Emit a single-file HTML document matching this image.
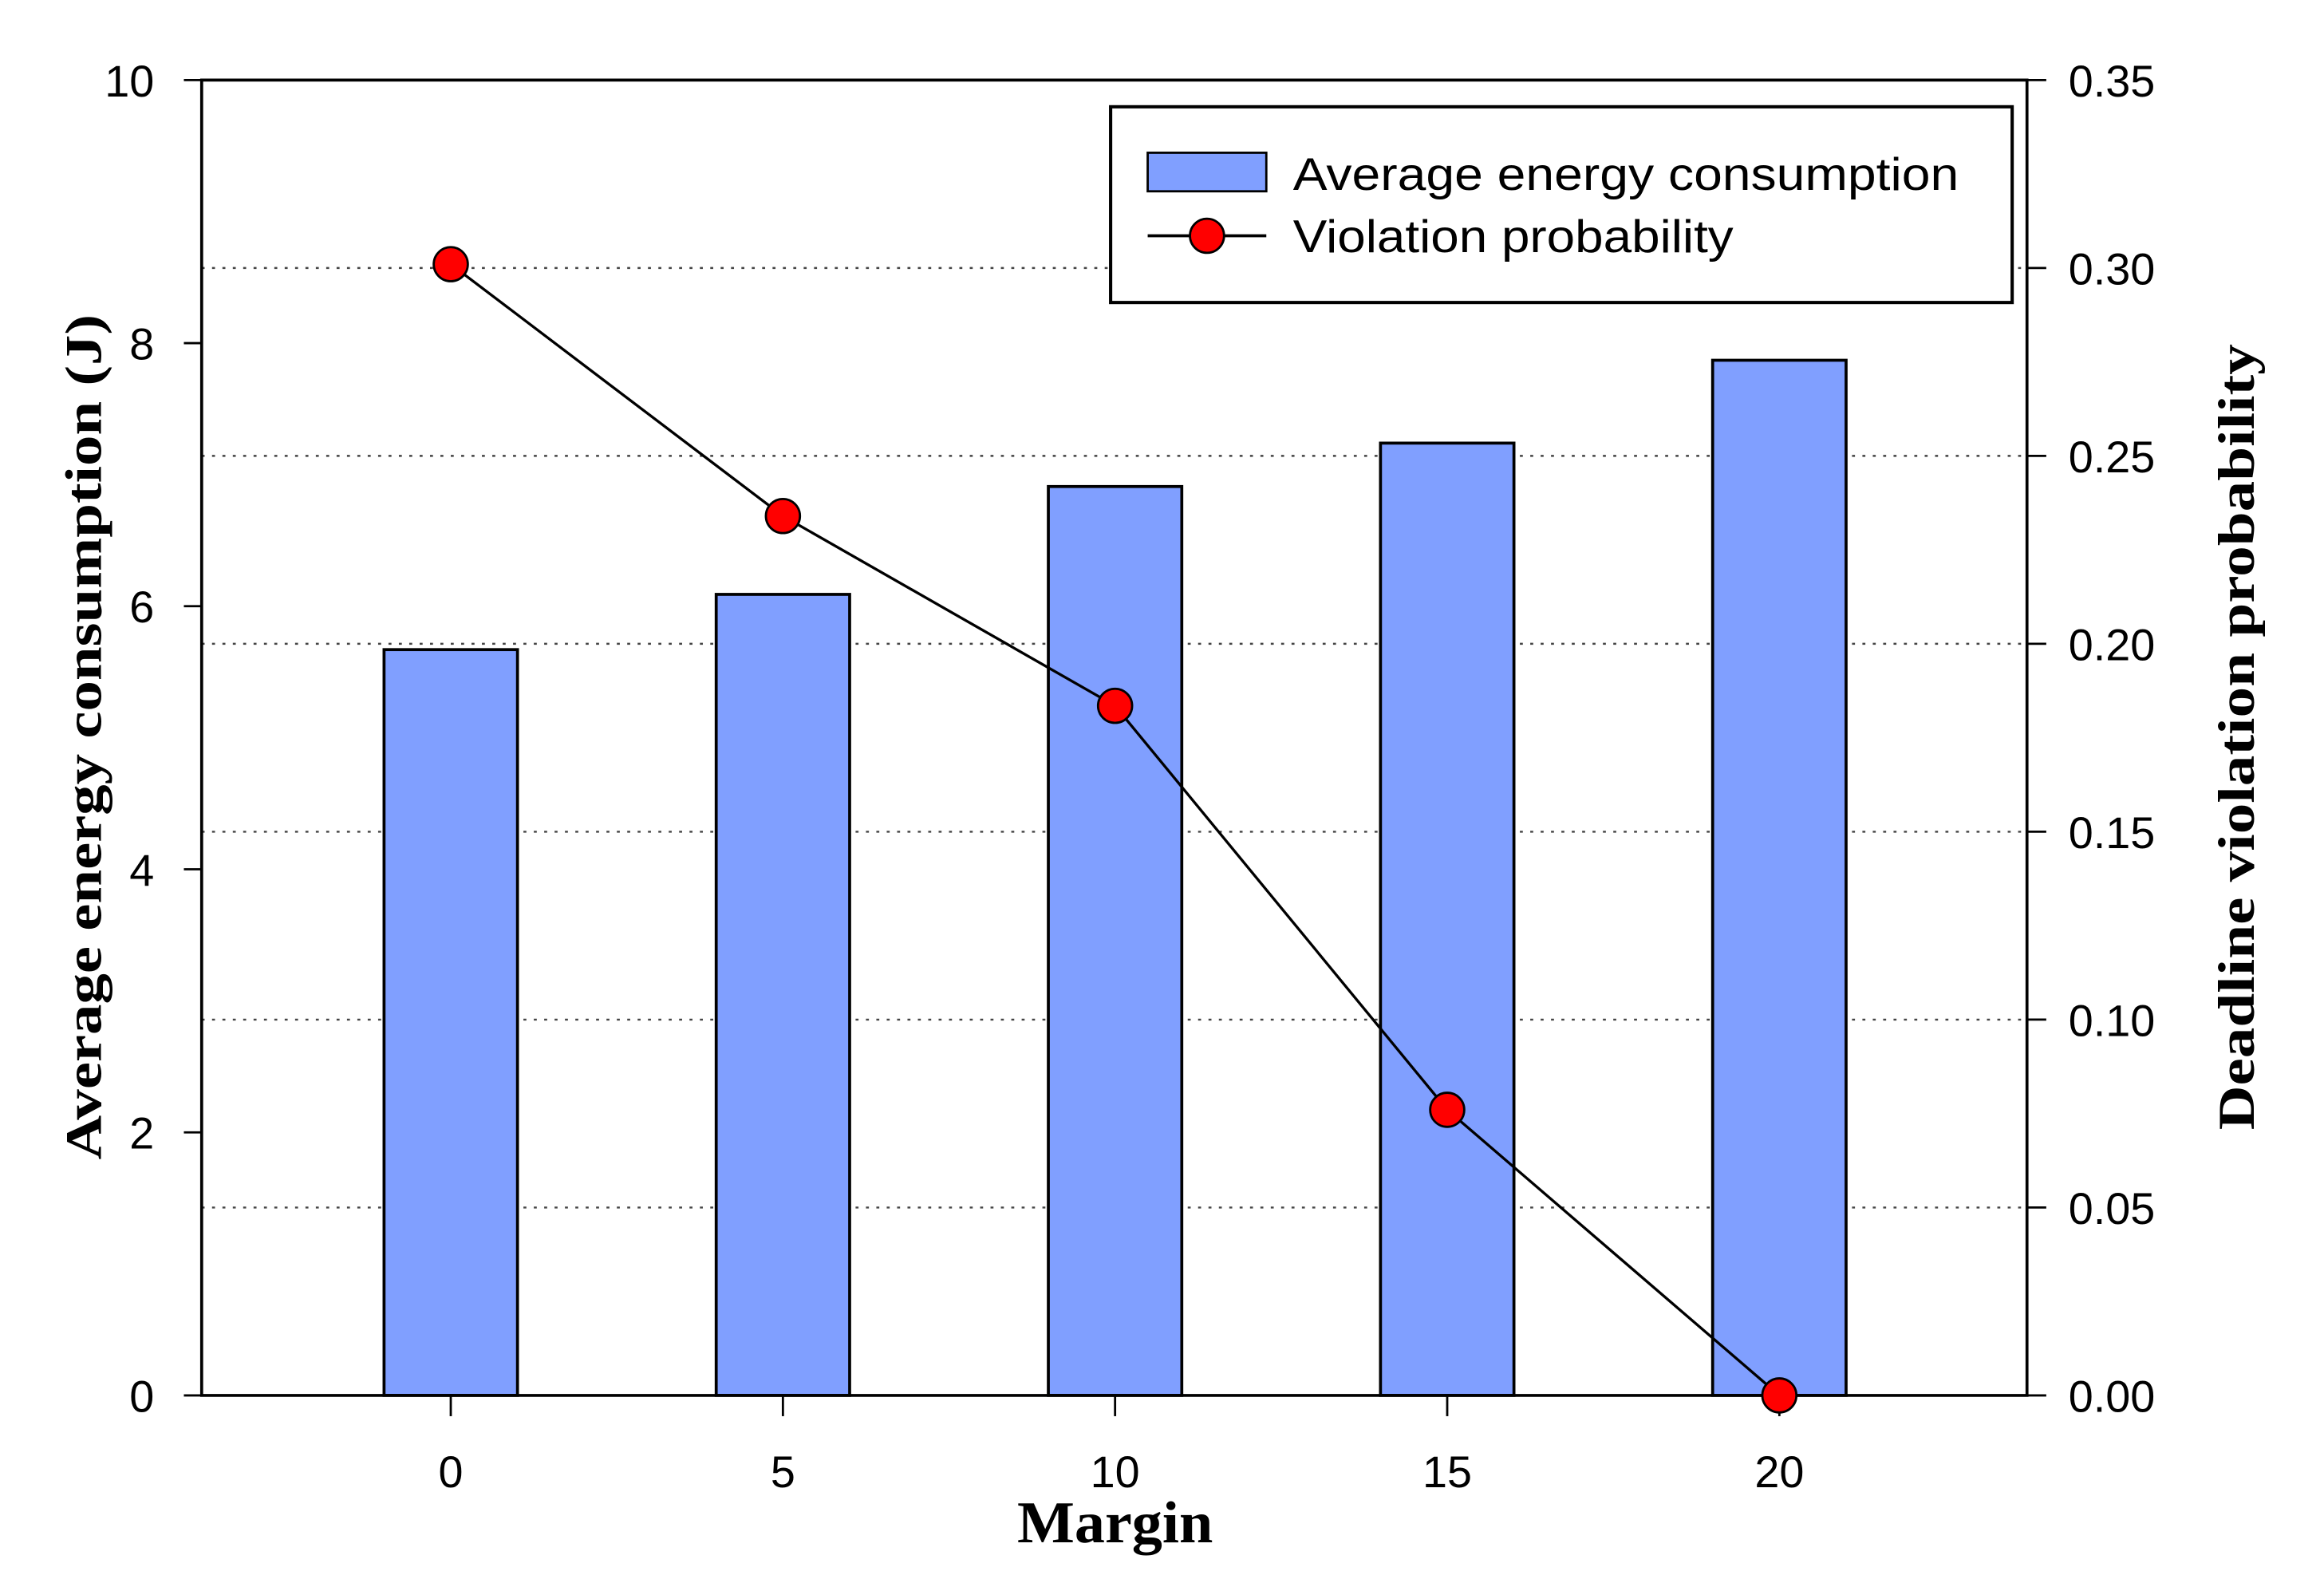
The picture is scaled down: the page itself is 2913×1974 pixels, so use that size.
<!DOCTYPE html>
<html><head><meta charset="utf-8"><style>html,body{margin:0;padding:0;background:#fff}svg{display:block}</style></head>
<body>
<svg id="chart" width="2913" height="1974" viewBox="0 0 1567.3 1062.1" preserveAspectRatio="none" xmlns="http://www.w3.org/2000/svg" font-family="Liberation Sans, sans-serif">
<rect width="1567.3" height="1062.1" fill="#fff"/>
<g id="grid"></g>
<g id="bars"></g>
<g id="axes"></g>
<g id="line"></g>
<g id="legend">
  <rect x="749" y="72" width="608" height="132" fill="#fff" stroke="#000" stroke-width="2.2"/>
  <rect x="774" y="103" width="80" height="26" fill="#809fff" stroke="#000" stroke-width="1.5"/>
  <text x="872" y="128" font-size="31" textLength="449" lengthAdjust="spacingAndGlyphs">Average energy consumption</text>
  <line x1="774" y1="159" x2="854" y2="159" stroke="#000" stroke-width="2"/>
  <circle cx="814" cy="159" r="11.5" fill="#f00" stroke="#000" stroke-width="1.5"/>
  <text x="872" y="170" font-size="31" textLength="297" lengthAdjust="spacingAndGlyphs">Violation probability</text>
</g>
<text x="752" y="1040" font-family="Liberation Serif, serif" font-weight="bold" font-size="40" text-anchor="middle" textLength="132" lengthAdjust="spacingAndGlyphs">Margin</text>
<text transform="translate(68,497) rotate(-90)" font-family="Liberation Serif, serif" font-weight="bold" font-size="35" text-anchor="middle" textLength="570" lengthAdjust="spacingAndGlyphs">Average energy consumption (J)</text>
<text transform="translate(1520,497) rotate(-90)" font-family="Liberation Serif, serif" font-weight="bold" font-size="35" text-anchor="middle" textLength="530" lengthAdjust="spacingAndGlyphs">Deadline violation probability</text>
<script>
const categories = [0, 5, 10, 15, 20];
const energyValues = [5.67, 6.09, 6.91, 7.24, 7.87];
const violationValues = [0.301, 0.234, 0.1835, 0.076, 0.0];
const leftTicks = [0, 2, 4, 6, 8, 10];
const rightTicks = ["0.00","0.05","0.10","0.15","0.20","0.25","0.30","0.35"];

const NS = "http://www.w3.org/2000/svg";
const L = 136, R = 1367, T = 54, B = 941;
const xPos = i => 304 + i * 224;
const yLeft = v => B - (v / 10) * (B - T);
const yRight = v => B - (v / 0.35) * (B - T);
function mk(tag, attrs, parent, txt) {
  const e = document.createElementNS(NS, tag);
  for (const k in attrs) e.setAttribute(k, attrs[k]);
  if (txt !== undefined) e.textContent = txt;
  parent.appendChild(e);
  return e;
}
const grid = document.getElementById('grid');
const bars = document.getElementById('bars');
const axes = document.getElementById('axes');
const line = document.getElementById('line');

rightTicks.forEach(t => {
  const v = parseFloat(t);
  if (v <= 0 || v >= 0.35) return;
  const g = mk('line', {x1: L, x2: R, y1: yRight(v), y2: yRight(v), stroke: '#444', 'stroke-width': 1.3, 'stroke-dasharray': '2,5'}, grid);
  
  
});

energyValues.forEach((v, i) => {
  const b = mk('rect', {x: xPos(i) - 45, y: yLeft(v), width: 90, height: B - yLeft(v), fill: '#809fff', stroke: '#000', 'stroke-width': 2}, bars);
  
  
});

const fr = mk('path', {d: `M${L},${T} H${R} V${B} H${L} Z`, fill: 'none', stroke: '#000', 'stroke-width': 2}, axes);



leftTicks.forEach(t => {
  const y = yLeft(t);
  mk('line', {x1: 124, x2: L, y1: y, y2: y, stroke: '#000', 'stroke-width': 1.5}, axes);
  const tx = mk('text', {x: 104, y: y + 11, 'font-size': 30, 'text-anchor': 'end'}, axes, String(t));
  
  
});
rightTicks.forEach(t => {
  const y = yRight(parseFloat(t));
  mk('line', {x1: R, x2: R + 13, y1: y, y2: y, stroke: '#000', 'stroke-width': 1.5}, axes);
  const tx = mk('text', {x: R + 28, y: y + 11, 'font-size': 30}, axes, t);
  
  
});
categories.forEach((c, i) => {
  const x = xPos(i);
  mk('line', {x1: x, x2: x, y1: B, y2: B + 14, stroke: '#000', 'stroke-width': 1.5}, axes);
  const tx = mk('text', {x: x, y: 1003, 'font-size': 30, 'text-anchor': 'middle'}, axes, String(c));
  
  
});

const pts = violationValues.map((v, i) => xPos(i) + ',' + yRight(v)).join(' ');
const pl = mk('polyline', {points: pts, fill: 'none', stroke: '#000', 'stroke-width': 1.8}, line);


violationValues.forEach((v, i) => {
  const c = mk('circle', {cx: xPos(i), cy: yRight(v), r: 11.5, fill: '#f00', stroke: '#000', 'stroke-width': 1.5}, line);
  
  
});
</script>
</svg>
</body></html>
